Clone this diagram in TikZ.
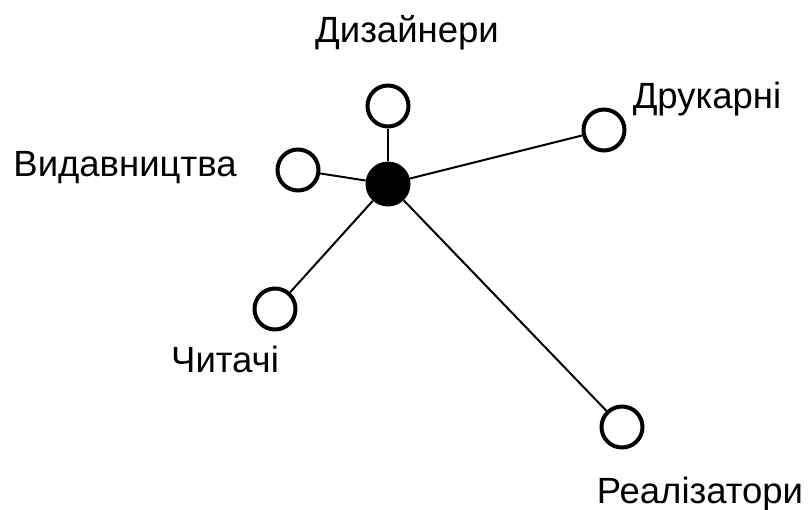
\documentclass[tikz,border=0pt]{standalone}
\usepackage{fontspec}
\setmainfont{Liberation Sans}
\begin{document}
\begin{tikzpicture}[x=1pt,y=-1pt,
  hollow/.style={circle,draw=black,line width=4pt,fill=white,minimum size=41pt,inner sep=0pt},
  hub/.style={circle,fill=black,minimum size=45pt,inner sep=0pt},
  lbl/.style={anchor=base,inner sep=0pt,font=\fontsize{36.5}{44}\selectfont},
  link/.style={line width=2pt}]
\useasboundingbox (0,0) rectangle (810,509);
\node[hub] (c) at (388,184) {};
\node[hollow] (diz) at (388,106) {};
\node[hollow] (druk) at (604,130) {};
\node[hollow] (vyd) at (298,170) {};
\node[hollow] (chyt) at (275,309) {};
\node[hollow] (real) at (622,427) {};
\draw[link] (c) -- (diz);
\draw[link] (c) -- (druk);
\draw[link] (c) -- (vyd);
\draw[link] (c) -- (chyt);
\draw[link] (c) -- (real);
\node[lbl] (tdiz) at (407,42) {Дизайнери};
\node[lbl] (tdruk) at (707,108) {Друкарні};
\node[lbl] (tvyd) at (125,176) {Видавництва};
\node[lbl] (tchyt) at (225,372) {Читачі};
\node[lbl] (treal) at (700,503) {Реалізатори};
\end{tikzpicture}
\end{document}
